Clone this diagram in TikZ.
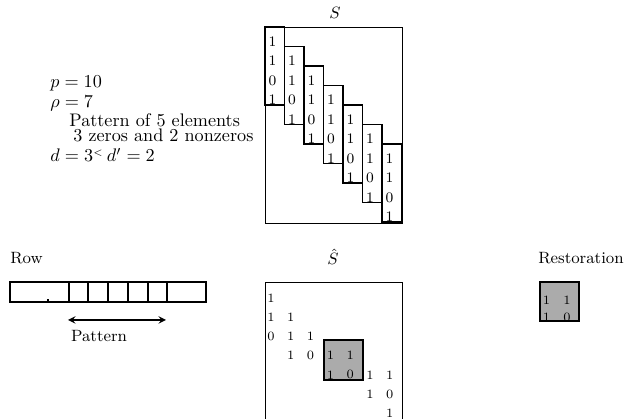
\documentclass[tikz,border=0pt]{standalone}
\usetikzlibrary{arrows}

\tikzset{
  colbox/.style={draw, line width=1pt},
  frame/.style={draw, line width=0.5pt},
  grayblock/.style={draw, line width=1pt, fill=gray!66},
  digit/.style={inner sep=0pt, font=\footnotesize},
  sdigit/.style={inner sep=0pt, font=\scriptsize},
  lbl/.style={inner sep=0pt, font=\small},
}

\begin{document}
\begin{tikzpicture}[x=0.55pt, y=-0.55pt]
    \clip (0,0) rectangle (631,419);

    % Parameters
    \node[anchor=west, inner sep=0pt] (pval) at (50,83) {$p = 10$};
    \node[anchor=west, inner sep=0pt] (rhoval) at (50,103) {$\rho = 7$};
    \node[anchor=west, inner sep=0pt] (pat1) at (69,120.5) {Pattern of 5 elements};
    \node[anchor=west, inner sep=0pt] (pat2) at (73,135.5) {3 zeros and 2 nonzeros};
    \node[anchor=west, inner sep=0pt] (dval) at (50,155) {$d = 3^{\scriptscriptstyle <}\, d' = 2$};

    % Matrix S with its columns
    \node[lbl] (Slbl) at (335,13) {$S$};
    \draw[frame] (265,27) rectangle (402,223);
    \foreach \i in {0,...,6} {
      \draw[colbox] ({265+19.5*\i},{27+19.5*\i}) rectangle +(19.5,78);
      \foreach \d [count=\j from 0] in {1,1,0,1}
        \node[digit] (s\i-\j) at ({272.5+19.5*\i},{41.5+19.5*\i+19.5*\j}) {\d};
    }

    % Row
    \node[lbl, anchor=west] (rowlbl) at (10,258) {Row};
    \draw[line width=1pt] (10,282) rectangle (206,302);
    \foreach \x in {69,88.3,108.3,128.3,147.7,167.3}
      \draw[line width=1pt] (\x,282) -- (\x,302);
    \draw[line width=1pt] (48,302) -- (48,299.5);
    \coordinate (patL) at (68,320);
    \coordinate (patR) at (166,320);
    \draw[<->, >=stealth, thick] (patL) -- (patR);
    \node[lbl] (patlbl) at (99,336) {Pattern};

    % Matrix S-hat
    \node[lbl] (Shlbl) at (333,257) {$\hat{S}$};
    \draw[frame] (265,282) rectangle (402,440);
    \draw[grayblock] (324,340) rectangle (363,380);
    \foreach \r/\c/\d in {1/1/1, 2/1/1, 2/2/1, 3/1/0, 3/2/1, 3/3/1,
                          4/2/1, 4/3/0, 4/4/1, 4/5/1, 5/4/1, 5/5/0, 5/6/1, 5/7/1,
                          6/6/1, 6/7/0, 7/7/1}
      \node[sdigit] (h\r-\c) at ({271+19.8*(\c-1)},{298+19.2*(\r-1)}) {\d};

    % Restoration
    \node[lbl] (reslbl) at (581,258) {Restoration};
    \draw[grayblock] (540,282) rectangle (579,321);
    \node[sdigit] (r11) at (546.5,300) {1};
    \node[sdigit] (r12) at (567,300) {1};
    \node[sdigit] (r21) at (546.5,317) {1};
    \node[sdigit] (r22) at (567,317) {0};
  \end{tikzpicture}
\end{document}
